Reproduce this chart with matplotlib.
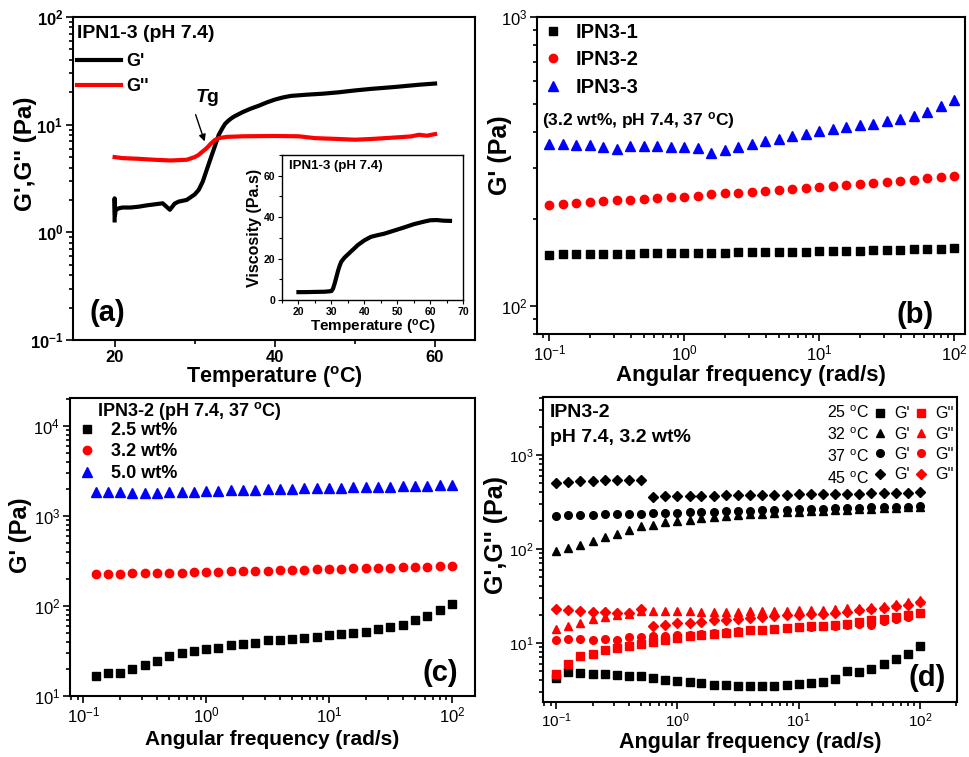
import numpy as np
import matplotlib.pyplot as plt
from matplotlib.ticker import LogLocator, NullFormatter, MultipleLocator, AutoMinorLocator
from matplotlib.lines import Line2D

plt.rcParams['font.family'] = ['Liberation Sans', 'DejaVu Sans']
plt.rcParams['mathtext.default'] = 'regular'
plt.rcParams['mathtext.fontset'] = 'custom'
plt.rcParams['mathtext.rm'] = 'Liberation Sans:bold'
plt.rcParams['mathtext.it'] = 'Liberation Sans:italic:bold'
plt.rcParams['mathtext.bf'] = 'Liberation Sans:bold'

# ---- panel (a): temperature sweep ----
temp_g1 = [20.0, 20.0, 20.05, 20.1, 20.5, 21, 22, 23, 24, 25, 26, 26.9, 27.5, 28, 29, 30, 30.5, 31,
           31.5, 32, 32.5, 33, 33.5, 33.8, 34.2, 34.6, 35, 36, 37, 38, 39, 40, 41, 42, 44, 46, 48,
           50, 52, 55, 58, 60]
g1_a = [1.29, 2.07, 1.45, 1.6, 1.67, 1.70, 1.70, 1.73, 1.78, 1.82, 1.86, 1.62, 1.85, 1.93, 2.0,
        2.25, 2.48, 2.96, 3.81, 4.89, 6.27, 8.06, 9.4, 10.2, 10.9, 11.5, 12.0, 13.1, 14.1, 15.0,
        16.1, 17.1, 17.9, 18.5, 19.0, 19.4, 20.0, 20.8, 21.5, 22.4, 23.5, 24.1]
temp_g2 = [20, 21, 23, 25, 27, 29, 30, 30.5, 31, 31.5, 32, 32.5, 33, 34, 36, 40, 43, 45, 48, 50,
           52, 55, 57, 58, 59, 60]
g2_a = [5.0, 4.89, 4.82, 4.72, 4.65, 4.72, 5.0, 5.25, 5.65, 6.06, 6.65, 7.2, 7.5, 7.7, 7.8,
        7.85, 7.8, 7.5, 7.36, 7.25, 7.36, 7.6, 7.78, 8.06, 7.9, 8.18]

# inset: viscosity
temp_v = [20, 22, 25, 28, 30, 30.5, 31, 31.5, 32, 32.5, 33, 34, 35, 36, 38, 40, 42, 44, 46, 48,
          50, 52, 55, 58, 60, 62, 64, 66]
visc = [3.8, 3.8, 3.9, 4.0, 4.3, 5.5, 8, 11, 14, 16.5, 18.5, 20.5, 22, 23.5, 26.5, 28.8, 30.5,
        31.3, 32, 33, 34, 35, 36.6, 37.8, 38.5, 38.6, 38.3, 38.2]

# ---- frequency sweeps ----
freq = [0.1, 0.126, 0.158, 0.2, 0.251, 0.316, 0.398, 0.501, 0.631, 0.794, 1.0, 1.26, 1.58, 2.0,
        2.51, 3.16, 3.98, 5.01, 6.31, 7.94, 10.0, 12.6, 15.8, 20.0, 25.1, 31.6, 39.8, 50.1, 63.1,
        79.4, 100.0]

# panel (b)
ipn31 = [150.0, 151.2, 151.2, 151.2, 151.2, 151.2, 151.2, 152.1, 152.1, 152.1, 152.1, 152.1, 152.9,
         152.9, 153.3, 153.3, 153.3, 153.7, 154.1, 154.1, 154.6, 155.0, 155.4, 155.4, 155.8, 155.8,
         156.2, 157.1, 157.5, 157.9, 159.2]
ipn32 = [223.4, 225.2, 227.6, 228.8, 230.0, 231.9, 233.1, 234.4, 235.6, 237.5, 238.8, 240.7, 243.2,
         245.2, 246.5, 248.5, 250.5, 251.8, 253.8, 255.8, 257.9, 260.6, 262.0, 264.8, 266.9, 269.0,
         271.2, 273.3, 276.3, 278.5, 282.2]
ipn33 = [365.0, 365.0, 362.1, 360.2, 353.6, 348.9, 358.3, 358.3, 358.3, 355.4, 353.6, 352.6, 338.8,
         346.1, 355.4, 363.1, 371.9, 379.8, 388.0, 395.3, 402.7, 409.2, 416.8, 422.4, 428.0, 436.1,
         445.4, 455.0, 469.7, 491.3, 515.2]

# panel (c), starts at the second frequency
wt25 = [16.7, 18.1, 17.8, 19.8, 21.9, 24.4, 27.8, 29.7, 31.5, 32.9, 34.3, 36.4, 38.0, 39.0, 41.4,
        41.7, 43.2, 43.9, 45.1, 47.0, 48.7, 50.3, 51.6, 54.8, 58.2, 61.7, 69.0, 78.3, 89.8, 106.4]
wt32 = [226.9, 228.8, 228.8, 230.7, 230.7, 232.7, 232.7, 234.7, 236.7, 238.7, 240.8, 242.8, 244.9,
        247.0, 247.0, 249.1, 251.2, 253.4, 255.5, 257.7, 260.0, 262.2, 262.2, 264.4, 266.7, 269.0,
        271.3, 273.5, 275.9, 280.6]
wt50 = [1854, 1823, 1839, 1792, 1792, 1792, 1854, 1854, 1854, 1886, 1902, 1919, 1952, 1952, 1986,
        1986, 2003, 2020, 2020, 2037, 2055, 2072, 2090, 2090, 2108, 2126, 2143, 2162, 2180, 2218]

# panel (d)
g1_25 = [4.25, 4.88, 4.80, 4.72, 4.65, 4.54, 4.43, 4.43, 4.18, 4.01, 3.95, 3.82, 3.70, 3.58, 3.52,
         3.47, 3.47, 3.47, 3.47, 3.52, 3.61, 3.70, 3.88, 4.08, 5.08, 4.88, 5.21, 5.89, 6.76, 7.70, 9.22]
g2_25 = [4.61, 5.89, 7.22, 7.70, 8.36, 8.85, 9.37, 9.84, 10.33, 10.85, 11.30, 11.77, 12.16, 12.46,
         12.77, 13.09, 13.63, 13.86, 14.08, 14.43, 14.67, 15.03, 15.28, 15.53, 15.91, 16.71, 17.41,
         17.98, 18.73, 19.83, 20.83]
g1_32 = [94.1, 102.0, 110.7, 120.1, 132.5, 144.9, 159.8, 173.3, 180.5, 191.1, 199.1, 204.0, 210.8,
         217.8, 221.4, 226.9, 232.5, 236.3, 240.2, 244.1, 248.2, 250.2, 254.3, 258.5, 260.6, 264.9,
         267.0, 271.4, 273.7, 275.9, 280.4]
g2_32 = [14.08, 15.28, 16.31, 17.98, 18.88, 20.0, 20.3, 22.05, 21.69, 21.69, 21.69, 21.69, 21.34,
         21.34, 21.34, 21.51, 21.69, 21.69, 21.87, 22.05, 22.23, 22.41, 22.59, 22.96, 23.34, 23.72,
         24.11, 24.92, 25.74, 27.03, 28.85]
g1_37 = [225.0, 226.9, 228.7, 230.6, 232.5, 232.5, 234.4, 236.3, 238.3, 240.2, 242.2, 244.1, 246.2,
         248.2, 250.2, 252.3, 254.3, 256.4, 258.5, 260.6, 262.8, 264.9, 267.0, 269.2, 271.4, 273.7,
         275.9, 278.1, 280.4, 282.7, 287.3]
g2_37 = [10.85, 11.03, 11.03, 10.85, 11.03, 10.85, 11.49, 11.58, 11.77, 11.96, 12.16, 12.26, 12.46,
         12.77, 13.09, 13.30, 13.63, 13.86, 14.08, 14.43, 14.67, 14.79, 15.03, 15.28, 15.66, 16.04,
         15.53, 16.99, 17.98, 18.88, 20.83]
g1_45 = [500, 521, 530, 534, 543, 543, 543, 543, 361, 367, 367, 370, 370, 370, 373, 373, 376, 376,
         379, 379, 382, 382, 385, 385, 388, 388, 392, 392, 395, 398, 408]
g2_45 = [22.96, 22.23, 21.69, 21.34, 21.34, 20.83, 20.83, 23.15, 15.28, 15.66, 16.31, 16.31, 16.85,
         17.69, 17.69, 17.98, 18.28, 18.88, 19.2, 19.67, 20.0, 20.3, 20.5, 20.83, 21.51, 22.23,
         22.96, 23.53, 24.5, 25.5, 27.03]

temps_d = ["25", "32", "37", "45"]
markers_d = ['s', '^', 'o', 'D']


def style(ax, lsize, lw=1.5):
    for s in ax.spines.values():
        s.set_linewidth(lw)
    ax.tick_params(which='both', direction='out', top=False, right=False, width=1.2)
    ax.tick_params(which='major', length=5, labelsize=lsize, pad=2)
    ax.tick_params(which='minor', length=3)


def logx(ax):
    ax.set_xscale('log')
    ax.xaxis.set_major_locator(LogLocator(base=10))
    ax.xaxis.set_minor_locator(LogLocator(base=10, subs=np.arange(2, 10)))
    ax.xaxis.set_minor_formatter(NullFormatter())


def logy(ax):
    ax.set_yscale('log')
    ax.yaxis.set_major_locator(LogLocator(base=10))
    ax.yaxis.set_minor_locator(LogLocator(base=10, subs=np.arange(2, 10)))
    ax.yaxis.set_minor_formatter(NullFormatter())


fig = plt.figure(figsize=(9.69, 7.57), dpi=100)

# ---------------- (a) ----------------
ax_a = fig.add_axes([0.0753, 0.5509, 0.415, 0.4266])
ax_a.plot(temp_g1, g1_a, color='black', lw=3, label="G'")
ax_a.plot(temp_g2, g2_a, color='red', lw=3, label="G''")
ax_a.set_yscale('log')
ax_a.set_ylim(0.1, 100)
ax_a.set_xlim(14.8, 65)
logy(ax_a)
ax_a.xaxis.set_major_locator(MultipleLocator(20))
ax_a.xaxis.set_minor_locator(AutoMinorLocator(2))
style(ax_a, 12)
ax_a.set_xlabel(r"Temperature ($^{o}$C)", fontsize=15.5, fontweight='bold', labelpad=0)
ax_a.set_ylabel("G',G'' (Pa)", fontsize=17.5, fontweight='bold')
ax_a.yaxis.set_label_coords(-0.09, 0.576)
leg = ax_a.legend(loc='upper left', bbox_to_anchor=(0.0, 0.99), frameon=False,
                  title="IPN1-3 (pH 7.4)", alignment='left', handlelength=2.4,
                  handletextpad=0.3, borderpad=0.25, labelspacing=0.45, borderaxespad=0,
                  prop={'weight': 'bold', 'size': 13},
                  title_fontproperties={'weight': 'bold', 'size': 14})
leg._legend_box.sep = 8
ax_a.annotate('', xy=(31.35, 6.6), xytext=(30.0, 13.1),
              arrowprops=dict(arrowstyle='-|>', color='black', lw=1, mutation_scale=10))
ax_a.text(31.6, 18.0, r"$\mathit{T}$g", fontsize=14, fontweight='bold', ha='center', va='center')
ax_a.text(0.085, 0.084, "(a)", transform=ax_a.transAxes, fontsize=21, fontweight='bold',
          ha='center', va='center')

# inset
ax_in = fig.add_axes([0.291, 0.6037, 0.187, 0.1915])
ax_in.plot(temp_v, visc, color='black', lw=3)
ax_in.set_xlim(15, 70)
ax_in.set_ylim(0, 70)
ax_in.xaxis.set_major_locator(MultipleLocator(10))
ax_in.xaxis.set_minor_locator(MultipleLocator(5))
ax_in.yaxis.set_major_locator(MultipleLocator(20))
ax_in.yaxis.set_minor_locator(MultipleLocator(10))
style(ax_in, 7.5, lw=1.0)
ax_in.tick_params(which='major', length=3, width=0.8)
ax_in.tick_params(which='minor', length=2, width=0.8)
ax_in.set_xlabel(r"Temperature ($^{o}$C)", fontsize=11, fontweight='bold', labelpad=1)
ax_in.set_ylabel("Viscosity (Pa.s)", fontsize=11.5, fontweight='bold', labelpad=1)
ax_in.text(0.04, 0.924, "IPN1-3 (pH 7.4)", transform=ax_in.transAxes, fontsize=9.5,
           fontweight='bold', va='center')

# ---------------- (b) ----------------
ax_b = fig.add_axes([0.554, 0.5588, 0.442, 0.4187])
ax_b.plot(freq, ipn31, 's', color='black', ms=5.5, ls='none', label='IPN3-1')
ax_b.plot(freq, ipn32, 'o', color='red', ms=6, ls='none', label='IPN3-2')
ax_b.plot(freq, ipn33, '^', color='blue', ms=6.5, ls='none', label='IPN3-3')
logx(ax_b)
logy(ax_b)
ax_b.set_xlim(0.081, 120)
ax_b.set_ylim(80, 1000)
style(ax_b, 12)
ax_b.set_xlabel("Angular frequency (rad/s)", fontsize=16, fontweight='bold', labelpad=1)
ax_b.set_ylabel("G' (Pa)", fontsize=18, fontweight='bold')
ax_b.yaxis.set_label_coords(-0.058, 0.565)
ax_b.legend(loc='upper left', bbox_to_anchor=(0.005, 0.995), frameon=False, handlelength=1,
            handletextpad=0.6, borderpad=0.2, labelspacing=0.42, borderaxespad=0,
            prop={'weight': 'bold', 'size': 14.5})
ax_b.text(0.012, 0.675, r"(3.2 wt%, pH 7.4, 37 $^{o}$C)", transform=ax_b.transAxes,
          fontsize=12.5, fontweight='bold', va='center')
ax_b.text(0.883, 0.06, "(b)", transform=ax_b.transAxes, fontsize=21, fontweight='bold',
          ha='center', va='center')

# ---------------- (c) ----------------
ax_c = fig.add_axes([0.0722, 0.0806, 0.418, 0.3936])
ax_c.plot(freq[1:], wt25, 's', color='black', ms=5.5, ls='none', label='2.5 wt%')
ax_c.plot(freq[1:], wt32, 'o', color='red', ms=6, ls='none', label='3.2 wt%')
ax_c.plot(freq[1:], wt50, '^', color='blue', ms=6.5, ls='none', label='5.0 wt%')
logx(ax_c)
logy(ax_c)
ax_c.set_xlim(0.078, 154)
ax_c.set_ylim(10, 20400)
style(ax_c, 12)
ax_c.set_xlabel("Angular frequency (rad/s)", fontsize=15, fontweight='bold', labelpad=3)
ax_c.set_ylabel("G' (Pa)", fontsize=17, fontweight='bold')
ax_c.yaxis.set_label_coords(-0.094, 0.54)
ax_c.text(0.067, 0.956, r"IPN3-2 (pH 7.4, 37 $^{o}$C)", transform=ax_c.transAxes, fontsize=13,
          fontweight='bold', va='center')
ax_c.legend(loc='upper left', bbox_to_anchor=(0.02, 0.92), frameon=False, handlelength=1,
            handletextpad=0.8, borderpad=0.0, labelspacing=0.25, borderaxespad=0,
            prop={'weight': 'bold', 'size': 13})
ax_c.text(0.914, 0.077, "(c)", transform=ax_c.transAxes, fontsize=21, fontweight='bold',
          ha='center', va='center')

# ---------------- (d) ----------------
ax_d = fig.add_axes([0.5604, 0.0727, 0.4272, 0.4029])
g1_d = [g1_25, g1_32, g1_37, g1_45]
g2_d = [g2_25, g2_32, g2_37, g2_45]
h1, h2 = [], []
for t, m, v1, v2 in zip(temps_d, markers_d, g1_d, g2_d):
    ms = 5.5 if m != 'D' else 5
    l1, = ax_d.plot(freq, v1, m, color='black', ms=ms, ls='none')
    l2, = ax_d.plot(freq, v2, m, color='red', ms=ms, ls='none')
    h1.append(l1)
    h2.append(l2)
logx(ax_d)
logy(ax_d)
ax_d.set_xlim(0.078, 202)
ax_d.set_ylim(2.35, 4140)
style(ax_d, 11)
ax_d.set_xlabel("Angular frequency (rad/s)", fontsize=15.5, fontweight='bold', labelpad=1)
ax_d.set_ylabel("G',G'' (Pa)", fontsize=18, fontweight='bold')
ax_d.yaxis.set_label_coords(-0.085, 0.548)
blank = [Line2D([], [], ls='none') for _ in temps_d]
labels = [t + r" $^{o}$C" for t in temps_d] + ["G'"] * 4 + ["G''"] * 4
ax_d.legend(blank + h1 + h2, labels, ncol=3, loc='upper right', bbox_to_anchor=(1.0, 0.985),
            frameon=False, handlelength=0.8, handletextpad=0.5, columnspacing=0.3,
            borderpad=0.2, labelspacing=0.33, borderaxespad=0, prop={'size': 11.5})
ax_d.text(0.017, 0.948, "IPN3-2", transform=ax_d.transAxes, fontsize=14, fontweight='bold',
          va='center')
ax_d.text(0.017, 0.866, "pH 7.4, 3.2 wt%", transform=ax_d.transAxes, fontsize=14,
          fontweight='bold', va='center')
ax_d.text(0.928, 0.079, "(d)", transform=ax_d.transAxes, fontsize=21, fontweight='bold',
          ha='center', va='center')

fig.canvas.draw()
for ax in (ax_a, ax_in):
    plt.setp(ax.get_xticklabels() + ax.get_yticklabels(), fontweight='bold')

fig.savefig('out.png', dpi=100)
